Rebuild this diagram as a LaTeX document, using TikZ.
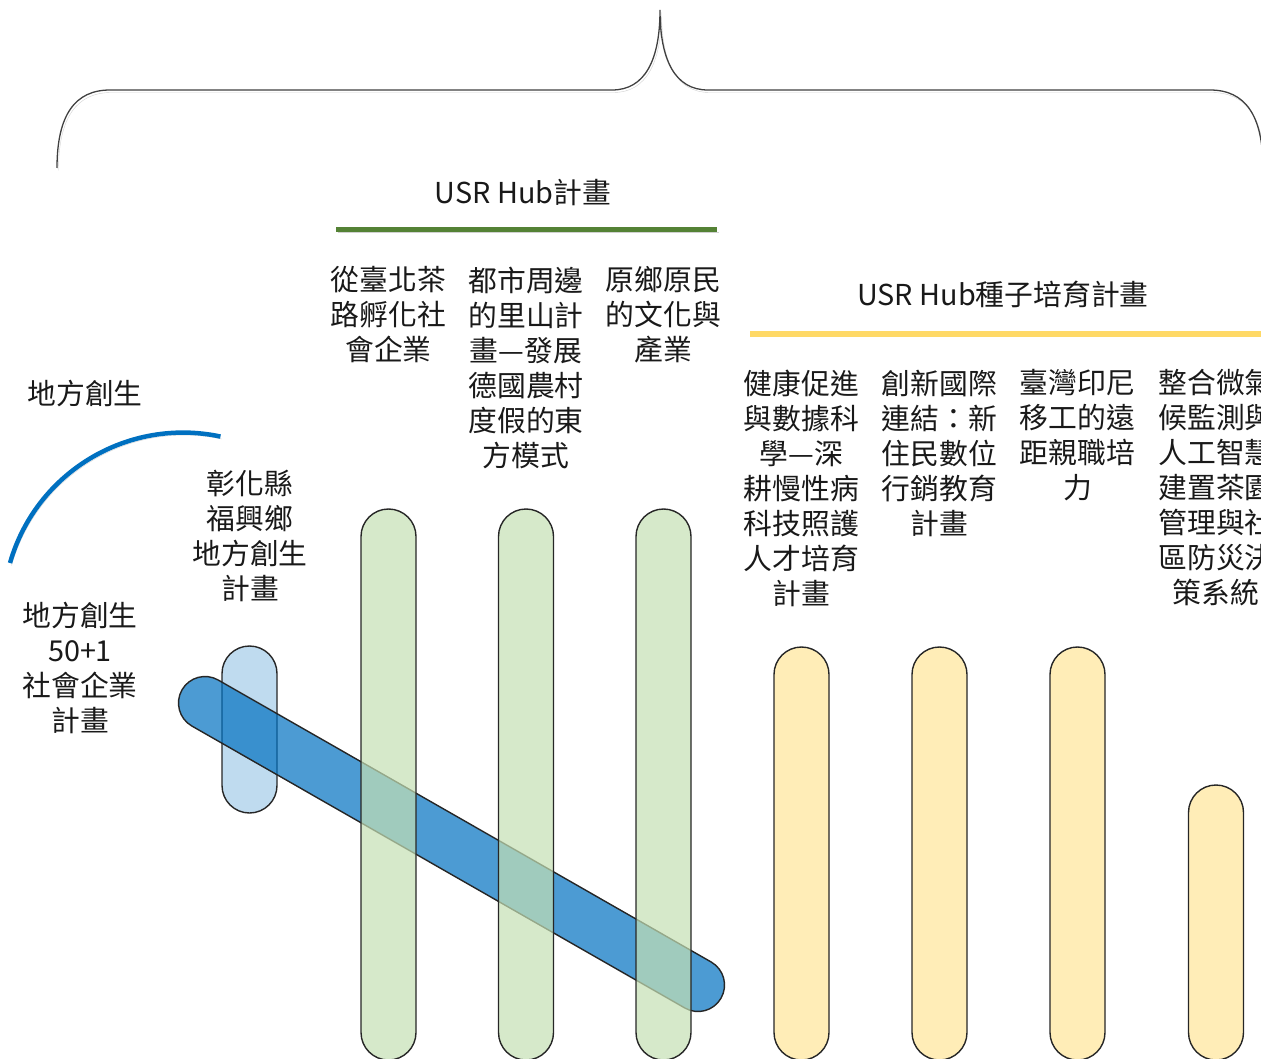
\documentclass[tikz,border=0pt]{standalone}
\usepackage{fontspec}
\setmainfont{Noto Sans CJK TC}
\usetikzlibrary{positioning}
\definecolor{hubgreen}{HTML}{548235}
\definecolor{seedgold}{HTML}{FFD966}
\definecolor{barblue}{HTML}{0070C0}
\definecolor{bargreen}{HTML}{C5E0B4}
\definecolor{baryellow}{HTML}{FFE699}
\definecolor{bracegray}{HTML}{404040}

\begin{document}
\begin{tikzpicture}[x=1pt,y=-1pt,
    lbl/.style={align=center,inner sep=0pt,text=black!90,font=\fontsize{28.8}{35}\selectfont},
    barline/.style={draw=black!85,line width=1.4pt},
    lightbar/.style={barline,fill=barblue,fill opacity=0.25},
    diagbar/.style={barline,fill=barblue,fill opacity=0.7},
    greenbar/.style={barline,fill=bargreen,fill opacity=0.7},
    yellowbar/.style={barline,fill=baryellow,fill opacity=0.7},
    shade/.style={preaction={draw=black!18,transform canvas={shift={(1.5,2.5)}}}}
]
    \useasboundingbox (0,0) rectangle (1261,1059);
    \clip (0,0) rectangle (1261,1059);

    % Brace over everything
    \draw[bracegray, line width=1.3pt, shade] (57,168) .. controls (57,115) and (75,90) .. (110,90)
        -- (612,90) .. controls (645,90) and (660,60) .. (660,10)
        .. controls (660,60) and (675,90) .. (708,90)
        -- (1210,90) .. controls (1245,90) and (1263,115) .. (1263,168);

    % Headings and their lines
    \draw[hubgreen, line width=5pt, shade] (336,230) -- (717,230);
    \draw[seedgold, line width=5pt, shade] (750,334) -- (1270,334);
    \draw[barblue, line width=4.5pt, shade] (10,563) arc[start angle=-164, end angle=-78, radius=180];

    % Bars
    \draw[lightbar, rounded corners=27.5pt] (222,646) rectangle (277,813);
    \draw[diagbar, rounded corners=26.5pt, rotate around={-29.77:(205,703)}] (178.5,676.5) rectangle (799.5,729.5);
    \foreach \x in {361,498.5,636}
        \draw[greenbar, rounded corners=27.5pt] (\x,509) rectangle ({\x+55},1060);
    \foreach \x/\t in {774/647,912/647,1050/647,1188.5/785}
        \draw[yellowbar, rounded corners=27.5pt] (\x,\t) rectangle ({\x+55},1060);

    % Labels
    \node[lbl] (hubtitle) at (523,193) {USR Hub計畫};
    \node[lbl] (seedtitle) at (1003,294) {USR Hub種子培育計畫};
    \node[lbl] (revital) at (85,393) {地方創生};
    \node[lbl] (fuxing) at (250,535.5) {彰化縣\\福興鄉\\地方創生\\計畫};
    \node[lbl] (fiftyone) at (80,667.5) {地方創生\\50+1\\社會企業\\計畫};
    \node[lbl] (tearoad) at (388.5,315) {從臺北茶\\路孵化社\\會企業};
    \node[lbl] (satoyama) at (526,367.5) {都市周邊\\的里山計\\畫—發展\\德國農村\\度假的東\\方模式};
    \node[lbl] (indigenous) at (663.5,315) {原鄉原民\\的文化與\\產業};
    \node[lbl] (health) at (801.5,488) {健康促進\\與數據科\\學—深\\耕慢性病\\科技照護\\人才培育\\計畫};
    \node[lbl] (newres) at (939.5,453) {創新國際\\連結：新\\住民數位\\行銷教育\\計畫};
    \node[lbl] (migrant) at (1077.5,435.5) {臺灣印尼\\移工的遠\\距親職培\\力};
    \node[lbl] (teagarden) at (1216,488) {整合微氣\\候監測與\\人工智慧\\建置茶園\\管理與社\\區防災決\\策系統};
\end{tikzpicture}
\end{document}
